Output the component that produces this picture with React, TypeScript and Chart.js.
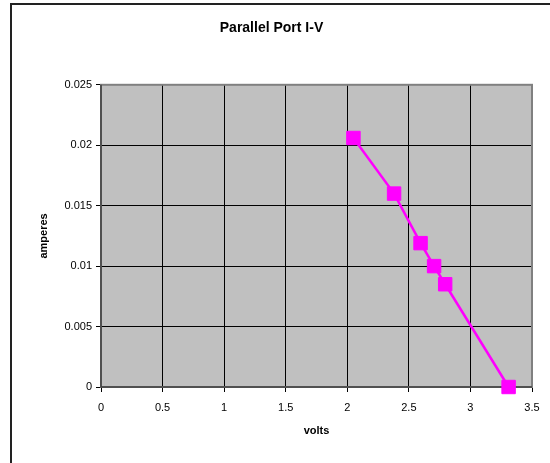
import React, { useEffect, useRef } from "react";
import { Chart, registerables } from "chart.js";

Chart.register(...registerables);

const volts = [2.05, 2.38, 2.595, 2.705, 2.795, 3.31];
const amperes = [0.0206, 0.016, 0.0119, 0.01, 0.0085, 0.0];
const xTicks = [0, 0.5, 1, 1.5, 2, 2.5, 3, 3.5];
const yTicks = [0, 0.005, 0.01, 0.015, 0.02, 0.025];

const FONT = "'Liberation Sans', Arial, Helvetica, sans-serif";

const plotBg = {
  id: "plotBg",
  beforeDraw(chart: any) {
    const { ctx, chartArea: a } = chart;
    ctx.save();
    ctx.fillStyle = "#C0C0C0";
    ctx.fillRect(a.left, a.top, a.right - a.left, a.bottom - a.top);
    ctx.restore();
  },
  beforeDatasetsDraw(chart: any) {
    const { ctx, chartArea: a } = chart;
    ctx.save();
    ctx.strokeStyle = "#808080";
    ctx.lineWidth = 2;
    ctx.strokeRect(a.left, a.top, a.right - a.left, a.bottom - a.top);
    ctx.strokeStyle = "#404040";
    ctx.lineWidth = 1.5;
    ctx.beginPath();
    ctx.moveTo(a.left, a.top);
    ctx.lineTo(a.left, a.bottom);
    ctx.lineTo(a.right, a.bottom);
    ctx.stroke();
    ctx.restore();
  },
};

export default function App() {
  const ref = useRef<HTMLCanvasElement>(null);
  useEffect(() => {
    const chart = new Chart(ref.current!, {
      type: "scatter",
      data: {
        datasets: [
          {
            data: volts.map((v, i) => ({ x: v, y: amperes[i] })),
            showLine: true,
            borderColor: "#FF00FF",
            backgroundColor: "#FF00FF",
            borderWidth: 2.5,
            pointStyle: "rect",
            pointRadius: 9.5,
            pointBorderWidth: 1,
            pointBorderColor: "#FF00FF",
            pointBackgroundColor: "#FF00FF",
            clip: false as any,
          },
        ],
      },
      options: {
        animation: false,
        responsive: false,
        devicePixelRatio: 1,
        layout: { padding: { left: 11, right: 18, top: 0, bottom: 0 } },
        plugins: {
          legend: { display: false },
          tooltip: { enabled: false },
          title: {
            display: true,
            text: "Parallel Port I-V",
            color: "#000",
            font: { family: FONT, size: 14, weight: "bold" },
            padding: { top: 20, bottom: 48 },
          },
        },
        scales: {
          x: {
            type: "linear",
            min: 0,
            max: 3.5,
            afterBuildTicks(s: any) {
              s.ticks = xTicks.map((v) => ({ value: v }));
            },
            afterFit(s: any) {
              s.height = 76;
            },
            ticks: {
              color: "#000",
              font: { family: FONT, size: 11 },
              padding: 9,
              maxRotation: 0,
              callback: (v: any) => String(v),
            },
            grid: { color: "#000", lineWidth: 1, tickLength: 5, drawTicks: true },
            border: { display: false },
            title: {
              display: true,
              text: "volts",
              color: "#000",
              font: { family: FONT, size: 11, weight: "bold" },
              padding: { top: 4, bottom: 25 },
            },
          },
          y: {
            type: "linear",
            min: 0,
            max: 0.025,
            afterBuildTicks(s: any) {
              s.ticks = yTicks.map((v) => ({ value: v }));
            },
            afterFit(s: any) {
              s.width = 90;
            },
            ticks: {
              color: "#000",
              font: { family: FONT, size: 11 },
              padding: 4,
              callback: (v: any) => String(v),
            },
            grid: { color: "#000", lineWidth: 1, tickLength: 5, drawTicks: true },
            border: { display: false },
            title: {
              display: true,
              text: "amperes",
              color: "#000",
              font: { family: FONT, size: 11, weight: "bold" },
              padding: { top: 26, bottom: 4 },
            },
          },
        },
      },
      plugins: [plotBg],
    });
    return () => chart.destroy();
  }, []);

  return (
    <div
      style={{
        position: "fixed",
        left: 0,
        top: 0,
        width: 550,
        height: 463,
        overflow: "hidden",
        background: "#fff",
      }}
    >
      <canvas ref={ref} width={550} height={463} style={{ position: "absolute", left: 0, top: 0 }} />
      <div
        style={{
          position: "absolute",
          left: 10,
          top: 3,
          width: 600,
          height: 520,
          border: "2px solid #222",
          boxSizing: "border-box",
          pointerEvents: "none",
        }}
      />
    </div>
  );
}
